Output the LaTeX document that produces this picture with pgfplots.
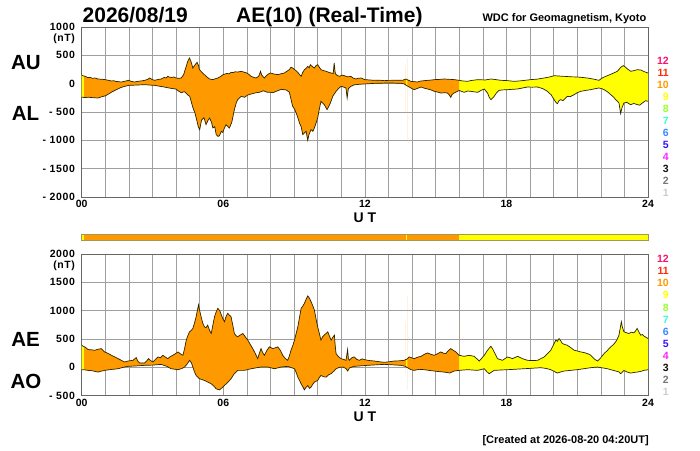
\documentclass[border=0pt]{standalone}
\usepackage{fontspec}
\setmainfont{Liberation Sans}
\newfontfamily\tickfont[LetterSpace=6]{Liberation Sans}
\usepackage{pgfplots}
\pgfplotsset{compat=1.18}
\usepackage{pgfplotstable}

\definecolor{cOr}{HTML}{FF9900}
\definecolor{cYe}{HTML}{FFFF00}
\definecolor{cBar}{HTML}{A09A50}
\definecolor{cLine}{HTML}{2A2200}
\definecolor{c12}{HTML}{FF0F6F}
\definecolor{c11}{HTML}{FF2A0A}
\definecolor{c10}{HTML}{FF9900}
\definecolor{c9}{HTML}{FFFF00}
\definecolor{c8}{HTML}{99FF33}
\definecolor{c7}{HTML}{33FFCC}
\definecolor{c6}{HTML}{3388FF}
\definecolor{c5}{HTML}{3311FF}
\definecolor{c4}{HTML}{FF22FF}
\definecolor{c3}{HTML}{111111}
\definecolor{c2}{HTML}{777777}
\definecolor{c1}{HTML}{CCCCCC}

\pgfplotstableread{
h v
0.00 150
0.05 140
0.15 128
0.27 106
0.36 112
0.45 95
0.57 100
0.69 82
0.85 78
1.00 71
1.10 62
1.26 47
1.35 52
1.45 40
1.56 35
1.68 29
1.78 38
1.85 45
1.99 59
2.10 40
2.24 29
2.35 38
2.45 45
2.56 50
2.67 59
2.80 75
2.88 100
3.00 70
3.09 59
3.18 68
3.25 75
3.37 82
3.50 110
3.58 100
3.65 129
3.72 115
3.80 110
3.90 118
3.99 100
4.10 95
4.22 100
4.32 160
4.43 306
4.50 400
4.57 453
4.64 380
4.71 276
4.80 330
4.89 376
4.95 320
4.99 247
5.10 200
5.20 159
5.30 120
5.42 82
5.56 71
5.65 85
5.77 100
5.90 130
5.99 159
6.08 170
6.15 180
6.25 175
6.33 200
6.42 195
6.50 210
6.62 205
6.76 218
6.90 200
7.00 188
7.10 160
7.18 129
7.30 110
7.39 100
7.50 130
7.58 218
7.63 150
7.74 100
7.85 150
7.93 175
8.00 188
8.15 170
8.31 159
8.45 175
8.59 188
8.70 220
8.80 247
8.87 290
8.94 276
9.05 240
9.16 200
9.25 150
9.30 129
9.37 200
9.44 247
9.51 270
9.58 306
9.64 280
9.69 335
9.78 300
9.86 276
9.93 320
10.00 335
10.07 290
10.14 247
10.25 230
10.36 218
10.47 200
10.57 188
10.66 180
10.70 365
10.74 200
10.78 159
10.92 129
11.03 150
11.13 141
11.27 120
11.41 129
11.50 100
11.62 82
11.72 95
11.84 100
12.00 71
12.20 65
12.40 59
12.60 62
12.82 53
13.00 58
13.25 59
13.45 62
13.60 59
13.74 82
13.85 60
13.95 41
14.10 35
14.23 29
14.35 45
14.52 53
14.70 60
14.85 65
14.94 71
15.15 75
15.36 82
15.55 78
15.78 71
15.90 65
16.00 59
16.10 50
16.35 41
16.50 55
16.78 71
17.10 65
17.34 82
17.50 75
17.76 59
18.00 55
18.33 41
18.60 50
19.03 71
19.30 80
19.60 100
19.85 120
20.02 141
20.20 135
20.44 129
20.60 125
20.80 120
21.00 118
21.20 110
21.43 100
21.70 80
21.92 59
22.10 110
22.28 141
22.50 180
22.70 218
22.85 290
22.95 318
23.05 290
23.13 259
23.27 218
23.40 230
23.55 247
23.70 240
23.85 210
24.00 188
}\AUtab

\pgfplotstableread{
h v
0.00 -235
0.10 -245
0.30 -240
0.50 -248
0.69 -253
0.85 -230
1.00 -215
1.15 -180
1.26 -150
1.45 -110
1.68 -65
1.85 -45
1.99 -30
2.30 -25
2.67 -18
2.90 -25
3.09 -30
3.30 -45
3.51 -60
3.75 -80
3.99 -95
4.10 -130
4.22 -160
4.35 -140
4.50 -200
4.58 -224
4.71 -420
4.80 -518
4.88 -650
4.94 -760
5.00 -811
5.08 -640
5.18 -600
5.27 -723
5.35 -650
5.42 -606
5.50 -680
5.56 -782
5.64 -760
5.70 -900
5.78 -930
5.84 -917
5.92 -841
5.98 -860
6.05 -780
6.12 -723
6.20 -760
6.26 -782
6.36 -682
6.42 -560
6.47 -459
6.55 -340
6.61 -282
6.76 -224
6.90 -240
7.04 -200
7.20 -180
7.39 -160
7.55 -150
7.70 -125
7.85 -150
8.00 -150
8.10 -160
8.24 -135
8.46 -100
8.66 -110
8.80 -150
8.94 -400
9.02 -450
9.09 -517
9.16 -600
9.23 -694
9.30 -760
9.37 -900
9.44 -870
9.51 -841
9.58 -1000
9.63 -900
9.72 -811
9.80 -840
9.86 -782
9.93 -700
10.00 -606
10.07 -450
10.14 -312
10.21 -340
10.28 -370
10.40 -459
10.47 -400
10.54 -341
10.64 -224
10.78 -135
10.90 -80
10.99 -47
11.10 -60
11.20 -76
11.25 -253
11.30 -90
11.40 -50
11.55 -20
11.80 -10
12.00 -5
12.40 5
12.82 10
13.25 10
13.55 5
13.67 -5
13.80 -40
13.95 -76
14.09 -106
14.25 -80
14.38 -59
14.52 -80
14.66 -94
14.80 -110
14.94 -135
15.10 -150
15.22 -165
15.40 -160
15.50 -165
15.58 -200
15.64 -241
15.70 -190
15.78 -165
15.90 -140
16.00 -120
16.21 -153
16.35 -130
16.49 -135
16.65 -145
16.78 -153
16.92 -120
17.06 -94
17.20 -165
17.27 -240
17.34 -282
17.40 -260
17.48 -224
17.58 -160
17.69 -118
17.85 -110
18.05 -106
18.25 -100
18.47 -94
18.70 -75
18.89 -59
19.10 -62
19.32 -59
19.55 -90
19.74 -135
19.90 -200
20.02 -282
20.10 -330
20.16 -353
20.23 -300
20.30 -282
20.40 -300
20.58 -224
20.70 -230
20.87 -194
21.00 -160
21.15 -135
21.35 -120
21.57 -106
21.75 -90
21.92 -76
22.05 -90
22.14 -106
22.30 -150
22.42 -194
22.55 -240
22.63 -282
22.77 -341
22.84 -529
22.90 -420
22.98 -341
23.10 -330
23.26 -370
23.40 -350
23.55 -370
23.65 -380
23.76 -341
23.90 -300
24.00 -312
}\ALtab

% the AL values again, from 24 UT back to 00 UT (to close the filled band)
\pgfplotstableread{
h v
24.00 -312
23.90 -300
23.76 -341
23.65 -380
23.55 -370
23.40 -350
23.26 -370
23.10 -330
22.98 -341
22.90 -420
22.84 -529
22.77 -341
22.63 -282
22.55 -240
22.42 -194
22.30 -150
22.14 -106
22.05 -90
21.92 -76
21.75 -90
21.57 -106
21.35 -120
21.15 -135
21.00 -160
20.87 -194
20.70 -230
20.58 -224
20.40 -300
20.30 -282
20.23 -300
20.16 -353
20.10 -330
20.02 -282
19.90 -200
19.74 -135
19.55 -90
19.32 -59
19.10 -62
18.89 -59
18.70 -75
18.47 -94
18.25 -100
18.05 -106
17.85 -110
17.69 -118
17.58 -160
17.48 -224
17.40 -260
17.34 -282
17.27 -240
17.20 -165
17.06 -94
16.92 -120
16.78 -153
16.65 -145
16.49 -135
16.35 -130
16.21 -153
16.00 -120
15.90 -140
15.78 -165
15.70 -190
15.64 -241
15.58 -200
15.50 -165
15.40 -160
15.22 -165
15.10 -150
14.94 -135
14.80 -110
14.66 -94
14.52 -80
14.38 -59
14.25 -80
14.09 -106
13.95 -76
13.80 -40
13.67 -5
13.55 5
13.25 10
12.82 10
12.40 5
12.00 -5
11.80 -10
11.55 -20
11.40 -50
11.30 -90
11.25 -253
11.20 -76
11.10 -60
10.99 -47
10.90 -80
10.78 -135
10.64 -224
10.54 -341
10.47 -400
10.40 -459
10.28 -370
10.21 -340
10.14 -312
10.07 -450
10.00 -606
9.93 -700
9.86 -782
9.80 -840
9.72 -811
9.63 -900
9.58 -1000
9.51 -841
9.44 -870
9.37 -900
9.30 -760
9.23 -694
9.16 -600
9.09 -517
9.02 -450
8.94 -400
8.80 -150
8.66 -110
8.46 -100
8.24 -135
8.10 -160
8.00 -150
7.85 -150
7.70 -125
7.55 -150
7.39 -160
7.20 -180
7.04 -200
6.90 -240
6.76 -224
6.61 -282
6.55 -340
6.47 -459
6.42 -560
6.36 -682
6.26 -782
6.20 -760
6.12 -723
6.05 -780
5.98 -860
5.92 -841
5.84 -917
5.78 -930
5.70 -900
5.64 -760
5.56 -782
5.50 -680
5.42 -606
5.35 -650
5.27 -723
5.18 -600
5.08 -640
5.00 -811
4.94 -760
4.88 -650
4.80 -518
4.71 -420
4.58 -224
4.50 -200
4.35 -140
4.22 -160
4.10 -130
3.99 -95
3.75 -80
3.51 -60
3.30 -45
3.09 -30
2.90 -25
2.67 -18
2.30 -25
1.99 -30
1.85 -45
1.68 -65
1.45 -110
1.26 -150
1.15 -180
1.00 -215
0.85 -230
0.69 -253
0.50 -248
0.30 -240
0.10 -245
0.00 -235
}\ALrev

\pgfplotstableread{
h v
0.00 391
0.07 370
0.13 361
0.20 340
0.27 314
0.40 310
0.55 302
0.70 320
0.83 331
0.97 272
1.10 250
1.26 213
1.40 185
1.54 154
1.70 120
1.82 95
1.96 112
2.17 124
2.31 172
2.38 110
2.45 77
2.67 77
2.75 110
2.83 154
2.92 120
3.02 95
3.12 140
3.23 184
3.34 170
3.44 213
3.55 180
3.65 154
3.75 190
3.86 213
3.97 240
4.08 272
4.18 240
4.29 213
4.36 330
4.43 480
4.50 560
4.57 628
4.64 650
4.71 687
4.78 780
4.85 894
4.90 1000
4.95 1101
5.00 1000
5.06 894
5.13 780
5.20 716
5.27 700
5.34 746
5.42 650
5.49 598
5.56 750
5.63 894
5.70 980
5.77 1042
5.85 1000
5.92 924
5.98 860
6.05 805
6.12 900
6.19 953
6.26 920
6.33 894
6.40 750
6.47 598
6.54 560
6.61 539
6.72 570
6.83 598
6.93 540
7.04 480
7.15 400
7.25 331
7.35 250
7.46 154
7.53 250
7.60 331
7.67 260
7.74 213
7.85 300
7.95 361
8.10 331
8.20 345
8.31 361
8.42 300
8.52 213
8.62 160
8.73 124
8.80 200
8.87 302
8.95 390
9.02 480
9.09 600
9.16 716
9.23 880
9.30 1042
9.37 1080
9.44 1131
9.51 1200
9.58 1261
9.65 1220
9.72 1160
9.79 1090
9.86 1012
9.93 860
10.00 716
10.07 600
10.14 480
10.21 540
10.28 568
10.36 600
10.43 627
10.50 550
10.57 480
10.64 530
10.71 568
10.74 400
10.78 243
10.88 190
10.99 154
11.10 140
11.20 124
11.27 314
11.30 160
11.34 124
11.45 170
11.55 184
11.66 140
11.77 124
11.88 150
11.98 136
12.20 120
12.40 112
12.60 100
12.82 89
13.05 100
13.25 112
13.45 115
13.67 124
13.80 150
13.88 184
13.98 170
14.09 154
14.24 180
14.38 195
14.52 230
14.66 255
14.80 230
14.94 213
15.08 240
15.22 272
15.33 250
15.43 243
15.53 290
15.64 331
15.75 300
15.86 272
16.00 213
16.21 195
16.42 213
16.63 195
16.85 112
16.95 160
17.06 213
17.20 302
17.34 373
17.41 330
17.48 272
17.62 154
17.83 124
18.05 184
18.26 154
18.47 195
18.68 154
18.89 124
19.10 120
19.32 124
19.60 184
19.88 302
20.00 400
20.09 480
20.16 460
20.23 509
20.30 470
20.37 420
20.50 400
20.58 391
20.72 350
20.87 302
21.00 290
21.15 272
21.30 260
21.43 243
21.55 220
21.64 184
21.75 140
21.86 112
22.00 170
22.14 243
22.28 300
22.42 361
22.53 400
22.63 450
22.70 500
22.77 568
22.87 805
22.92 700
22.98 627
23.09 610
23.19 598
23.30 620
23.40 610
23.47 640
23.54 687
23.62 620
23.69 568
23.76 580
23.83 550
23.92 530
24.00 509
}\AEtab

\pgfplotstableread{
h v
0.00 -41
0.15 -45
0.27 -53
0.45 -60
0.69 -83
0.85 -65
0.97 -53
1.20 -40
1.54 -24
1.75 0
1.96 18
2.30 25
2.67 36
3.00 40
3.37 53
3.60 20
3.79 -24
4.08 -41
4.25 -20
4.36 6
4.47 60
4.57 124
4.65 80
4.71 6
4.78 -80
4.85 -142
4.99 -201
5.10 -215
5.20 -231
5.35 -260
5.49 -290
5.60 -330
5.70 -379
5.84 -397
5.95 -360
6.05 -320
6.20 -260
6.33 -201
6.45 -120
6.61 -53
6.90 -53
7.18 -24
7.60 6
7.89 6
8.17 -24
8.45 6
8.73 18
9.02 -24
9.09 -90
9.16 -172
9.23 -230
9.30 -290
9.37 -340
9.44 -397
9.51 -350
9.58 -320
9.65 -370
9.72 -349
9.79 -300
9.86 -260
10.00 -231
10.07 -180
10.14 -142
10.25 -165
10.36 -172
10.47 -130
10.57 -112
10.68 -70
10.78 -24
10.92 0
11.07 6
11.20 -20
11.27 -65
11.35 -10
11.55 18
12.12 36
12.82 53
13.53 36
13.70 20
13.81 -6
13.95 -40
14.09 -53
14.30 -35
14.52 -41
14.75 -55
14.94 -65
15.15 -75
15.36 -83
15.60 -100
15.78 -65
16.00 -53
16.35 -41
16.78 -53
17.06 -24
17.18 -80
17.27 -112
17.38 -80
17.48 -53
18.05 -41
18.75 -24
19.46 -6
19.70 -20
19.88 -41
20.16 -101
20.30 -80
20.44 -65
21.00 -41
21.57 -6
21.86 6
22.28 -24
22.63 -65
22.77 -80
22.84 -112
22.90 -90
22.98 -53
23.10 -80
23.26 -101
23.40 -90
23.54 -83
23.70 -70
23.83 -53
24.00 -41
}\AOtab

% the AO values again, from 24 UT back to 00 UT
\pgfplotstableread{
h v
24.00 -41
23.83 -53
23.70 -70
23.54 -83
23.40 -90
23.26 -101
23.10 -80
22.98 -53
22.90 -90
22.84 -112
22.77 -80
22.63 -65
22.28 -24
21.86 6
21.57 -6
21.00 -41
20.44 -65
20.30 -80
20.16 -101
19.88 -41
19.70 -20
19.46 -6
18.75 -24
18.05 -41
17.48 -53
17.38 -80
17.27 -112
17.18 -80
17.06 -24
16.78 -53
16.35 -41
16.00 -53
15.78 -65
15.60 -100
15.36 -83
15.15 -75
14.94 -65
14.75 -55
14.52 -41
14.30 -35
14.09 -53
13.95 -40
13.81 -6
13.70 20
13.53 36
12.82 53
12.12 36
11.55 18
11.35 -10
11.27 -65
11.20 -20
11.07 6
10.92 0
10.78 -24
10.68 -70
10.57 -112
10.47 -130
10.36 -172
10.25 -165
10.14 -142
10.07 -180
10.00 -231
9.86 -260
9.79 -300
9.72 -349
9.65 -370
9.58 -320
9.51 -350
9.44 -397
9.37 -340
9.30 -290
9.23 -230
9.16 -172
9.09 -90
9.02 -24
8.73 18
8.45 6
8.17 -24
7.89 6
7.60 6
7.18 -24
6.90 -53
6.61 -53
6.45 -120
6.33 -201
6.20 -260
6.05 -320
5.95 -360
5.84 -397
5.70 -379
5.60 -330
5.49 -290
5.35 -260
5.20 -231
5.10 -215
4.99 -201
4.85 -142
4.78 -80
4.71 6
4.65 80
4.57 124
4.47 60
4.36 6
4.25 -20
4.08 -41
3.79 -24
3.60 20
3.37 53
3.00 40
2.67 36
2.30 25
1.96 18
1.75 0
1.54 -24
1.20 -40
0.97 -53
0.85 -65
0.69 -83
0.45 -60
0.27 -53
0.15 -45
0.00 -41
}\AOrev

% closed outlines of the bands: upper series forward, lower series backward
\pgfplotstablevertcat{\polyTop}{\AUtab}
\pgfplotstablevertcat{\polyTop}{\ALrev}
\pgfplotstablevertcat{\polyBot}{\AEtab}
\pgfplotstablevertcat{\polyBot}{\AOrev}

\pgfplotsset{
  kyoto/.style={
    scale only axis, width=566.3pt, anchor=south west,
    xmin=0, xmax=24,
    xtick={0,1,...,24},
    xticklabels={00,,,,,,06,,,,,,12,,,,,,18,,,,,,24},
    ymajorgrids, xmajorgrids,
    major grid style={draw=gray!75, line width=0.55pt},
    axis line style={draw=gray!80!black, line width=0.6pt},
    tick style={draw=none},
    yticklabel style={font=\tickfont\bfseries\fontsize{10.5}{12}\selectfont, anchor=east, inner sep=0pt, xshift=-6.5pt},
    xticklabel style={font=\bfseries\fontsize{10.5}{12}\selectfont, anchor=north, inner sep=0pt, yshift=-3pt},
  },
  bandline/.style={draw=cLine, line width=0.7pt, mark=none},
}

\begin{document}
\begin{tikzpicture}
\path[use as bounding box] (0pt,0pt) rectangle (700pt,450pt);

% ---------- AU / AL ----------
\begin{axis}[kyoto, at={(81.7pt,253pt)}, height=170pt,
  ymin=-2000, ymax=1000, ytick={-2000,-1500,...,1000},
  yticklabels={{- 2000},{- 1500},{- 1000},{- 500},0,500,1000}]
\addplot[fill=cYe, draw=none] table[x=h,y=v]{\polyTop};
\addplot[fill=cOr, draw=none, restrict x to domain*=0.1:13.74] table[x=h,y=v]{\polyTop};
\addplot[fill=cOr, draw=none, restrict x to domain*=13.8:16] table[x=h,y=v]{\polyTop};
\addplot[bandline] table[x=h,y=v]{\AUtab};
\addplot[bandline] table[x=h,y=v]{\ALtab};
\end{axis}

% ---------- colour bar ----------
\begin{axis}[scale only axis, width=566.3pt, height=6.4pt, anchor=south west,
  at={(81.7pt,209.3pt)}, xmin=0, xmax=24, ymin=0, ymax=1, ticks=none,
  axis on top, axis line style={draw=cBar, line width=0.5pt}]
\addplot[fill=cYe, draw=none] coordinates {(0,0) (0,1) (24,1) (24,0)};
\addplot[fill=cOr, draw=none] coordinates {(0.1,0) (0.1,1) (13.74,1) (13.74,0)};
\addplot[fill=cOr, draw=none] coordinates {(13.8,0) (13.8,1) (16,1) (16,0)};
\end{axis}

% ---------- AE / AO ----------
\begin{axis}[kyoto, at={(81.7pt,54.3pt)}, height=141.7pt,
  ymin=-500, ymax=2000, ytick={-500,0,...,2000},
  yticklabels={{- 500},0,500,1000,1500,2000}]
\addplot[fill=cYe, draw=none] table[x=h,y=v]{\polyBot};
\addplot[fill=cOr, draw=none, restrict x to domain*=0.1:13.74] table[x=h,y=v]{\polyBot};
\addplot[fill=cOr, draw=none, restrict x to domain*=13.8:16] table[x=h,y=v]{\polyBot};
\addplot[bandline] table[x=h,y=v]{\AEtab};
\addplot[bandline] table[x=h,y=v]{\AOtab};
\end{axis}

% ---------- texts ----------
\node[anchor=base west, inner sep=0pt, font=\bfseries\fontsize{21}{24}\selectfont] at (82.5pt,427.3pt) {2026/08/19};
\node[anchor=base west, inner sep=0pt, font=\bfseries\fontsize{21}{24}\selectfont] at (236pt,427.3pt) {AE(10) (Real-Time)};
\node[anchor=base east, inner sep=0pt, font=\bfseries\fontsize{11}{13}\selectfont] at (646.5pt,428.3pt) {WDC for Geomagnetism, Kyoto};
\node[anchor=base east, inner sep=0pt, font=\bfseries\fontsize{11}{13}\selectfont] at (649pt,6.5pt) {[Created at 2026-08-20 04:20UT]};

\node[inner sep=0pt, font=\bfseries\fontsize{20.5}{24}\selectfont] at (26pt,387pt) {AU};
\node[inner sep=0pt, font=\bfseries\fontsize{20.5}{24}\selectfont] at (25.5pt,337pt) {AL};
\node[inner sep=0pt, font=\bfseries\fontsize{20.5}{24}\selectfont] at (25.5pt,111pt) {AE};
\node[inner sep=0pt, font=\bfseries\fontsize{20.5}{24}\selectfont] at (26pt,68.5pt) {AO};

\node[anchor=east, inner sep=0pt, font=\tickfont\bfseries\fontsize{10.5}{12}\selectfont] at (75.2pt,411pt) {(nT)};
\node[anchor=east, inner sep=0pt, font=\tickfont\bfseries\fontsize{10.5}{12}\selectfont] at (75.2pt,184pt) {(nT)};

\node[inner sep=0pt, font=\bfseries\fontsize{14}{16}\selectfont] at (364.9pt,232pt) {U T};
\node[inner sep=0pt, font=\bfseries\fontsize{14}{16}\selectfont] at (364.9pt,33.3pt) {U T};

\foreach \n/\c [count=\i from 0] in {12/c12,11/c11,10/c10,9/c9,8/c8,7/c7,6/c6,5/c5,4/c4,3/c3,2/c2,1/c1}{
  \node[anchor=east, inner sep=0pt, text=\c, font=\bfseries\fontsize{10.5}{12}\selectfont] at (669pt,{389pt-\i*12pt}) {\n};
  \node[anchor=east, inner sep=0pt, text=\c, font=\bfseries\fontsize{10.5}{12}\selectfont] at (669pt,{191pt-\i*12.1pt}) {\n};
}
\end{tikzpicture}
\end{document}
